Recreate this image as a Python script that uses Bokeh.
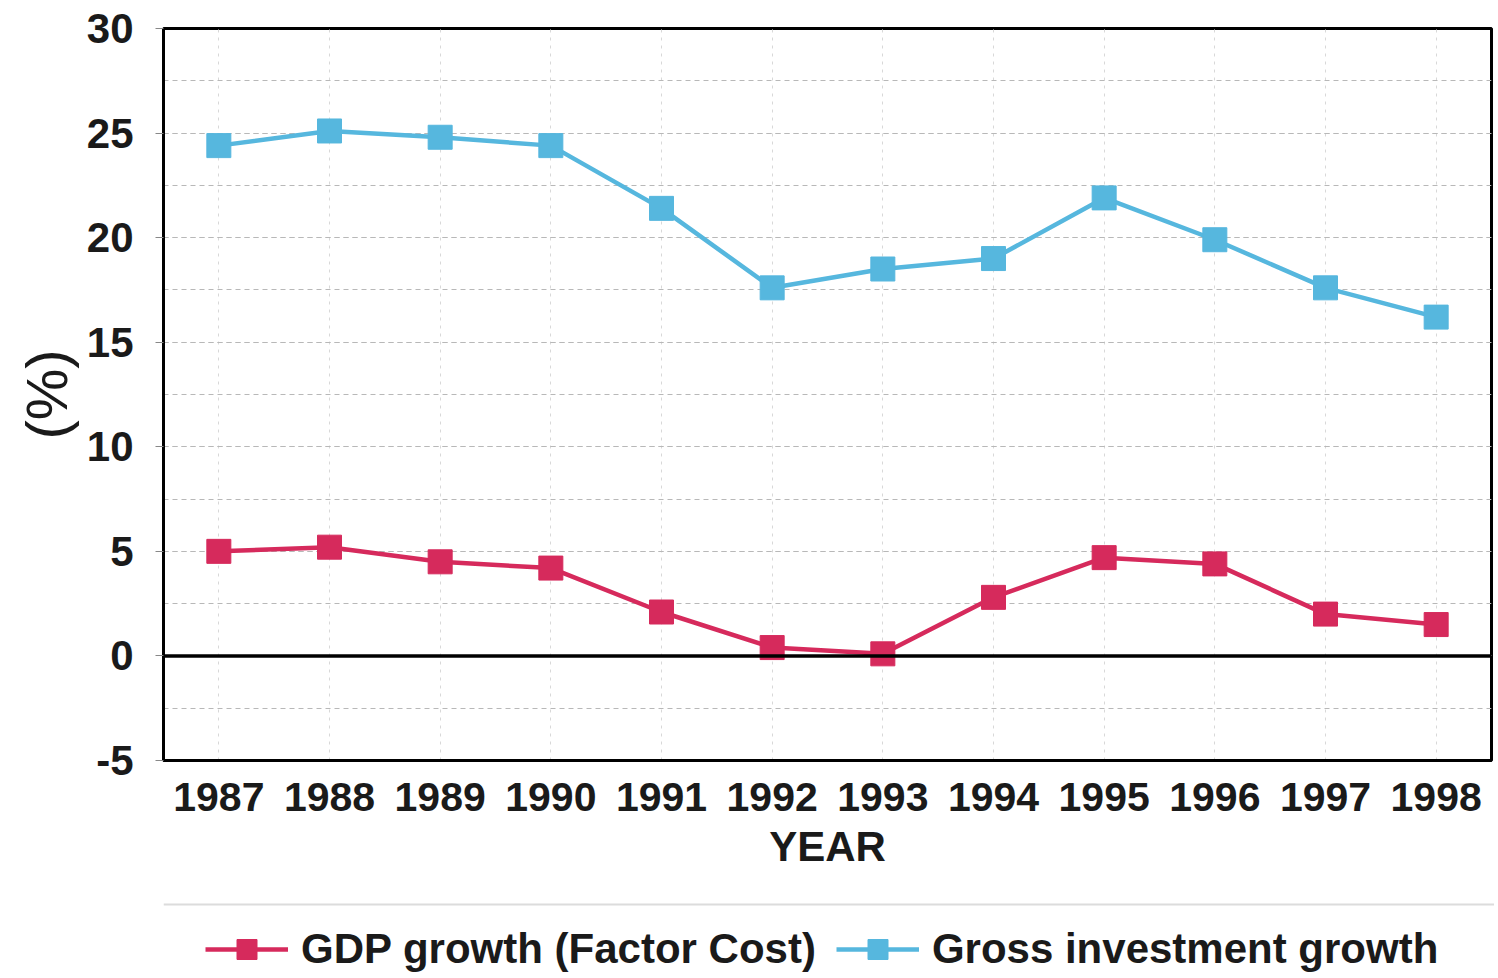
from bokeh.plotting import figure
from bokeh.layouts import column
from bokeh.models import (FactorRange, Range1d, SingleIntervalTicker, Span, Legend, LegendItem,
                          PrintfTickFormatter)
from bokeh.embed import file_html
from bokeh.resources import INLINE

years = ["1987", "1988", "1989", "1990", "1991", "1992", "1993", "1994", "1995", "1996", "1997", "1998"]
gdp_growth = [5.0, 5.2, 4.5, 4.2, 2.1, 0.4, 0.1, 2.8, 4.7, 4.4, 2.0, 1.5]
investment_growth = [24.4, 25.1, 24.8, 24.4, 21.4, 17.6, 18.5, 19.0, 21.9, 19.9, 17.6, 16.2]
series_labels = ["GDP growth (Factor Cost)", "Gross investment growth"]

RED = "#d62a5c"
BLUE = "#56b7de"
FONT = "Liberation Sans"
TOTAL_W = 1494
LEG_H = 84

p = figure(x_range=FactorRange(*years), y_range=Range1d(-5, 30),
           frame_width=1328, frame_height=732,
           min_border_left=163, min_border_right=3, min_border_top=28, min_border_bottom=130,
           output_backend="svg", toolbar_location=None,
           background_fill_color="white", border_fill_color="white")

p.outline_line_color = "black"
p.outline_line_width = 3

# y axis
p.yaxis.ticker = SingleIntervalTicker(interval=5, num_minor_ticks=2)
p.yaxis.formatter = PrintfTickFormatter(format="%d")
p.yaxis.axis_line_width = 3
p.yaxis.axis_line_color = "black"
p.yaxis.major_tick_out = 8
p.yaxis.major_tick_in = 0
p.yaxis.minor_tick_out = 0
p.yaxis.minor_tick_in = 0
p.yaxis.major_tick_line_color = "#888888"
p.yaxis.major_label_standoff = 22
p.yaxis.major_label_text_font = FONT
p.yaxis.major_label_text_font_style = "bold"
p.yaxis.major_label_text_font_size = "42px"
p.yaxis.major_label_text_color = "#1a1a1a"
p.yaxis.axis_label = "(%)"
p.yaxis.axis_label_text_font = FONT
p.yaxis.axis_label_text_font_style = "normal"
p.yaxis.axis_label_text_font_size = "58px"
p.yaxis.axis_label_text_color = "#1a1a1a"
p.yaxis.axis_label_standoff = 5

# x axis
p.xaxis.axis_line_width = 3
p.xaxis.axis_line_color = "black"
p.xaxis.major_tick_out = 0
p.xaxis.major_tick_in = 0
p.xaxis.major_label_standoff = 22
p.xaxis.major_label_text_font = FONT
p.xaxis.major_label_text_font_style = "bold"
p.xaxis.major_label_text_font_size = "41px"
p.xaxis.major_label_text_color = "#1a1a1a"
p.xaxis.axis_label = "YEAR"
p.xaxis.axis_label_text_font = FONT
p.xaxis.axis_label_text_font_style = "bold"
p.xaxis.axis_label_text_font_size = "42px"
p.xaxis.axis_label_text_color = "#1a1a1a"
p.xaxis.axis_label_standoff = 9

# grids
p.ygrid.grid_line_color = "#b8b8b8"
p.ygrid.grid_line_dash = "5 4"
p.ygrid.grid_line_width = 1
p.ygrid.minor_grid_line_color = "#b8b8b8"
p.ygrid.minor_grid_line_dash = "5 4"
p.ygrid.minor_grid_line_width = 1
p.xgrid.grid_line_color = "#d8d8d8"
p.xgrid.grid_line_dash = "3 5"
p.xgrid.grid_line_width = 1

# zero line
p.add_layout(Span(location=0, dimension="width", line_color="black", line_width=3.5))

p.line(years, gdp_growth, line_color=RED, line_width=4.5)
p.scatter(years, gdp_growth, marker="square", size=24, fill_color=RED, line_color=RED)
p.line(years, investment_growth, line_color=BLUE, line_width=4.5)
p.scatter(years, investment_growth, marker="square", size=24, fill_color=BLUE, line_color=BLUE)

# legend strip below the chart (its y range lies above the data, so the series stay hidden here
# and only their legend glyphs show)
p2 = figure(x_range=FactorRange(*years), y_range=Range1d(1000, 1000 + LEG_H),
            frame_width=TOTAL_W, frame_height=LEG_H,
            min_border_left=0, min_border_right=0, min_border_top=0, min_border_bottom=0,
            x_axis_location=None, y_axis_location=None,
            output_backend="svg", toolbar_location=None,
            background_fill_color="white", border_fill_color="white")
p2.outline_line_color = None
p2.grid.visible = False
p2.add_layout(Span(location=1000 + LEG_H - 14, dimension="width", line_color="#dcdcdc", line_width=2))

lg1 = p2.line(years, gdp_growth, line_color=RED, line_width=4.5)
sg1 = p2.scatter(years, gdp_growth, marker="square", fill_color=RED, line_color=RED)
lg2 = p2.line(years, investment_growth, line_color=BLUE, line_width=4.5)
sg2 = p2.scatter(years, investment_growth, marker="square", fill_color=BLUE, line_color=BLUE)

legend = Legend(items=[LegendItem(label=series_labels[0], renderers=[lg1, sg1]),
                       LegendItem(label=series_labels[1], renderers=[lg2, sg2])],
                orientation="horizontal", location=(205, 0),
                glyph_width=83, glyph_height=50, label_standoff=13, spacing=20,
                label_text_font=FONT, label_text_font_style="bold", label_text_font_size="42px",
                label_text_color="#1a1a1a", border_line_color=None, background_fill_alpha=0,
                padding=2, margin=0)
p2.add_layout(legend, "center")

open("out.html", "w").write(file_html(column(p, p2), INLINE))
